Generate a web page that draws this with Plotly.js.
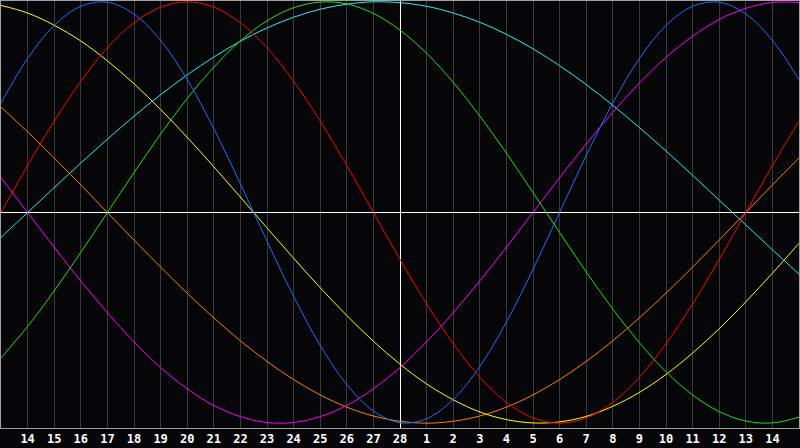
<!DOCTYPE html>
<html>
<head>
<meta charset="utf-8">
<script src="https://cdn.plot.ly/plotly-3.0.1.min.js"></script>
<style>
html,body{margin:0;padding:0;background:#060609;}
#chart{width:800px;height:448px;}
</style>
</head>
<body>
<div id="chart"></div>
<script>
// day offsets relative to the central day (28)
var days = [-15,-14,-13,-12,-11,-10,-9,-8,-7,-6,-5,-4,-3,-2,-1,0,1,2,3,4,5,6,7,8,9,10,11,12,13,14,15];
var tickDays = [-14,-13,-12,-11,-10,-9,-8,-7,-6,-5,-4,-3,-2,-1,0,1,2,3,4,5,6,7,8,9,10,11,12,13,14];
var tickLabels = ["14","15","16","17","18","19","20","21","22","23","24","25","26","27","28","1","2","3","4","5","6","7","8","9","10","11","12","13","14"];

var blueVals = [0.520,0.731,0.888,0.979,0.998,0.942,0.817,0.631,0.398,0.136,-0.136,-0.398,-0.631,-0.817,-0.942,-0.998,-0.979,-0.888,-0.731,-0.520,-0.270,0.000,0.270,0.520,0.731,0.888,0.979,0.998,0.942,0.817,0.631];
var redVals = [0.000,0.223,0.434,0.623,0.782,0.901,0.975,1.000,0.975,0.901,0.782,0.623,0.434,0.223,0.000,-0.223,-0.434,-0.623,-0.782,-0.901,-0.975,-1.000,-0.975,-0.901,-0.782,-0.623,-0.434,-0.223,0.000,0.223,0.434];
var greenVals = [-0.690,-0.541,-0.372,-0.189,0.000,0.189,0.372,0.541,0.690,0.815,0.910,0.972,0.999,0.990,0.945,0.866,0.756,0.618,0.458,0.282,0.095,-0.095,-0.282,-0.458,-0.618,-0.756,-0.866,-0.945,-0.990,-0.999,-0.972];
var magentaVals = [0.165,0.000,-0.165,-0.325,-0.476,-0.614,-0.736,-0.837,-0.916,-0.969,-0.997,-0.997,-0.969,-0.916,-0.837,-0.736,-0.614,-0.476,-0.325,-0.165,0.000,0.165,0.325,0.476,0.614,0.736,0.837,0.916,0.969,0.997,0.997];
var yellowVals = [0.983,0.947,0.889,0.814,0.720,0.611,0.489,0.357,0.217,0.073,-0.073,-0.217,-0.357,-0.489,-0.611,-0.720,-0.814,-0.889,-0.947,-0.983,-0.999,-0.994,-0.968,-0.920,-0.854,-0.769,-0.667,-0.552,-0.424,-0.288,-0.146];
var orangeVals = [0.500,0.383,0.259,0.131,0.000,-0.131,-0.259,-0.383,-0.500,-0.609,-0.707,-0.793,-0.866,-0.924,-0.966,-0.991,-1.000,-0.991,-0.966,-0.924,-0.866,-0.793,-0.707,-0.609,-0.500,-0.383,-0.259,-0.131,0.000,0.131,0.259];
var cyanVals = [-0.118,0.000,0.118,0.235,0.348,0.457,0.559,0.653,0.738,0.813,0.876,0.927,0.965,0.989,1.000,0.996,0.979,0.947,0.903,0.846,0.777,0.697,0.607,0.509,0.403,0.292,0.177,0.059,-0.059,-0.177,-0.292];

var seriesList = [
  {name:"Spiritual", vals:cyanVals, color:"#22eeee"},
  {name:"Awareness", vals:orangeVals, color:"#ff8000"},
  {name:"Aesthetic", vals:yellowVals, color:"#ffff00"},
  {name:"Intuitive", vals:magentaVals, color:"#ff00ff"},
  {name:"Intellectual", vals:greenVals, color:"#22e010"},
  {name:"Emotional", vals:redVals, color:"#ff0000"},
  {name:"Physical", vals:blueVals, color:"#1e6eff"}
];

var traces = seriesList.map(function(s){
  return {x:days, y:s.vals, name:s.name, type:"scatter", mode:"lines",
    line:{color:s.color, width:1, shape:"spline", smoothing:1}, hoverinfo:"skip"};
});

var layout = {
  width:800, height:448,
  margin:{l:1, r:1, t:1, b:20, pad:0},
  paper_bgcolor:"#060609", plot_bgcolor:"#060609",
  showlegend:false,
  xaxis:{range:[-15,15], tickvals:tickDays, ticktext:tickLabels,
    showgrid:true, gridcolor:"#3a3a3a", gridwidth:1,
    zeroline:true, zerolinecolor:"#ffffff", zerolinewidth:1,
    showline:true, linecolor:"#a0a0a0", linewidth:1, mirror:true,
    ticks:"", tickfont:{family:"DejaVu Sans Mono", size:12, color:"#ffffff", weight:"bold"},
    fixedrange:true},
  yaxis:{range:[-1.023,1.004], showgrid:false, showticklabels:false, ticks:"",
    zeroline:true, zerolinecolor:"#ffffff", zerolinewidth:1,
    showline:true, linecolor:"#a0a0a0", linewidth:1, mirror:true, fixedrange:true}
};

Plotly.newPlot("chart", traces, layout, {displayModeBar:false, staticPlot:true});
</script>
</body>
</html>
